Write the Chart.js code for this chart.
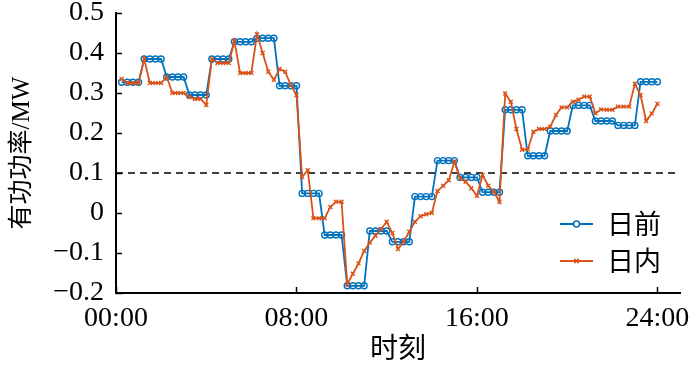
<!DOCTYPE html>
<html>
<head>
<meta charset="utf-8">
<title>有功功率</title>
<script src="https://cdn.jsdelivr.net/npm/chart.js@4.4.0/dist/chart.umd.min.js"></script>
<style>
body{margin:0;background:#fff}
</style>
</head>
<body>
<canvas id="myChart" width="700" height="366"></canvas>
<script>
// 15-minute points, in hours (00:15 ... 24:00)
const times = [];
for (let k = 1; k <= 96; k++) times.push(k * 0.25);

// 日前 (day-ahead), hourly plan held over each quarter
const dayAhead = [
  0.327, 0.327, 0.327, 0.327,   0.385, 0.385, 0.385, 0.385,
  0.340, 0.340, 0.340, 0.340,   0.295, 0.295, 0.295, 0.295,
  0.385, 0.385, 0.385, 0.385,   0.428, 0.428, 0.428, 0.428,
  0.437, 0.437, 0.437, 0.437,   0.318, 0.318, 0.318, 0.318,
  0.049, 0.049, 0.049, 0.049,  -0.055, -0.055, -0.055, -0.055,
 -0.182, -0.182, -0.182, -0.182, -0.045, -0.045, -0.045, -0.045,
 -0.072, -0.072, -0.072, -0.072,  0.041, 0.041, 0.041, 0.041,
  0.131, 0.131, 0.131, 0.131,   0.089, 0.089, 0.089, 0.089,
  0.052, 0.052, 0.052, 0.052,   0.258, 0.258, 0.258, 0.258,
  0.143, 0.143, 0.143, 0.143,   0.205, 0.205, 0.205, 0.205,
  0.269, 0.269, 0.269, 0.269,   0.230, 0.230, 0.230, 0.230,
  0.219, 0.219, 0.219, 0.219,   0.328, 0.328, 0.328, 0.328
];

// 日内 (intraday)
const intraday = [
  0.335, 0.325, 0.325, 0.325,   0.385, 0.325, 0.325, 0.325,
  0.340, 0.300, 0.300, 0.300,   0.290, 0.285, 0.285, 0.270,
  0.385, 0.375, 0.375, 0.375,   0.430, 0.350, 0.350, 0.350,
  0.447, 0.400, 0.353, 0.333,   0.360, 0.353, 0.320, 0.295,
  0.090, 0.107, -0.013, -0.013, -0.013, 0.015, 0.028, 0.028,
 -0.178, -0.152, -0.126, -0.095, -0.074, -0.057, -0.040, -0.022,
 -0.050, -0.090, -0.072, -0.047, -0.022, -0.008, -0.003, 0.000,
  0.055, 0.068, 0.082, 0.128,   0.087, 0.078, 0.062, 0.043,
  0.095, 0.068, 0.053, 0.028,   0.299, 0.278, 0.210, 0.158,
  0.159, 0.203, 0.210, 0.210,   0.216, 0.245, 0.264, 0.264,
  0.278, 0.283, 0.291, 0.291,   0.249, 0.259, 0.258, 0.258,
  0.266, 0.266, 0.266, 0.323,   0.295, 0.230, 0.249, 0.273
];

const refLevel = 0.1;
const xTicks = [0, 8, 16, 24];
const seriesNames = ['日前', '日内'];

const BLUE = '#0072BD';
const ORANGE = '#D95319';
const FONT = "'Liberation Serif', 'Noto Sans CJK SC', serif";

function pts(arr) {
  return arr.map((v, i) => ({x: times[i], y: v}));
}

// inward tick marks, like the original plot
const innerTicks = {
  id: 'innerTicks',
  afterDatasetsDraw(chart) {
    const ctx = chart.ctx;
    const a = chart.chartArea;
    ctx.save();
    ctx.strokeStyle = '#000';
    ctx.lineWidth = 1.5;
    chart.scales.y.ticks.forEach(t => {
      const py = Math.round(chart.scales.y.getPixelForValue(t.value)) + 0.5;
      ctx.beginPath(); ctx.moveTo(a.left, py); ctx.lineTo(a.left + 6, py); ctx.stroke();
    });
    chart.scales.x.ticks.forEach(t => {
      const px = Math.round(chart.scales.x.getPixelForValue(t.value)) + 0.5;
      ctx.beginPath(); ctx.moveTo(px, a.bottom); ctx.lineTo(px, a.bottom - 6); ctx.stroke();
    });
    ctx.restore();
  }
};

// legend with line + marker, bottom right inside the axes
const lineLegend = {
  id: 'lineLegend',
  afterDatasetsDraw(chart) {
    const ctx = chart.ctx;
    const a = chart.chartArea;
    const rows = [
      {name: seriesNames[0], color: BLUE, style: 'circle', y: a.bottom - 69},
      {name: seriesNames[1], color: ORANGE, style: 'crossRot', y: a.bottom - 32}
    ];
    ctx.save();
    rows.forEach(r => {
      const x0 = a.right - 120, x1 = a.right - 87;
      ctx.strokeStyle = r.color;
      ctx.lineWidth = 2;
      ctx.beginPath(); ctx.moveTo(x0, r.y); ctx.lineTo(x1, r.y); ctx.stroke();
      ctx.fillStyle = '#fff';
      ctx.lineWidth = 1.5;
      Chart.helpers.drawPoint(ctx, {pointStyle: r.style, radius: 3, borderWidth: 1.5}, (x0 + x1) / 2, r.y);
      ctx.fillStyle = '#000';
      ctx.font = "27px 'Noto Sans CJK SC', sans-serif";
      ctx.textBaseline = 'middle';
      ctx.fillText(r.name, x1 + 14, r.y);
    });
    ctx.restore();
  }
};

new Chart('myChart', {
  type: 'line',
  data: {
    datasets: [
      {
        label: seriesNames[1],
        data: pts(intraday),
        borderColor: ORANGE,
        backgroundColor: ORANGE,
        borderWidth: 1.8,
        pointStyle: 'crossRot',
        pointRadius: 2.8,
        pointBorderWidth: 1.4,
        pointBorderColor: ORANGE,
        order: 0
      },
      {
        label: seriesNames[0],
        data: pts(dayAhead),
        borderColor: BLUE,
        backgroundColor: 'rgba(0,0,0,0)',
        borderWidth: 1.8,
        pointStyle: 'circle',
        pointRadius: 3,
        pointBorderWidth: 1.4,
        pointBorderColor: BLUE,
        pointBackgroundColor: 'rgba(0,0,0,0)',
        order: 1
      },
      {
        label: 'ref',
        data: [{x: 0, y: refLevel}, {x: 25, y: refLevel}],
        borderColor: '#000',
        borderWidth: 1.6,
        borderDash: [7, 5],
        pointRadius: 0,
        order: 2
      }
    ]
  },
  options: {
    responsive: false,
    animation: false,
    layout: {padding: {top: 13, right: 20, left: 0, bottom: 0}},
    plugins: {
      legend: {display: false},
      tooltip: {enabled: false}
    },
    scales: {
      x: {
        type: 'linear',
        min: 0,
        max: 25,
        afterBuildTicks: s => { s.ticks = xTicks.map(v => ({value: v})); },
        afterFit: s => { s.height = 73; s.paddingLeft = 0; s.paddingRight = 0; },
        grid: {display: false, drawTicks: false},
        border: {color: '#000', width: 2},
        ticks: {
          color: '#000',
          font: {family: FONT, size: 28},
          padding: 9,
          maxRotation: 0,
          callback: v => String(v).padStart(2, '0') + ':00'
        },
        title: {
          display: true,
          text: '时刻',
          color: '#000',
          font: {family: FONT, size: 28, lineHeight: 1},
          padding: {top: 0, bottom: 1}
        }
      },
      y: {
        min: -0.2,
        max: 0.5,
        afterFit: s => { s.width = 116; s.paddingTop = 0; s.paddingBottom = 0; },
        grid: {display: false, drawTicks: false},
        border: {color: '#000', width: 2},
        ticks: {
          stepSize: 0.1,
          color: '#000',
          font: {family: FONT, size: 28},
          padding: 12,
          callback: v => Math.abs(v) < 1e-9 ? '0' : v.toFixed(1).replace('-', '\u2212')
        },
        title: {
          display: true,
          text: '有功功率/MW',
          color: '#000',
          font: {family: FONT, size: 25, lineHeight: 1},
          padding: {top: 10, bottom: 0}
        }
      }
    }
  },
  plugins: [innerTicks, lineLegend]
});
</script>
</body>
</html>
